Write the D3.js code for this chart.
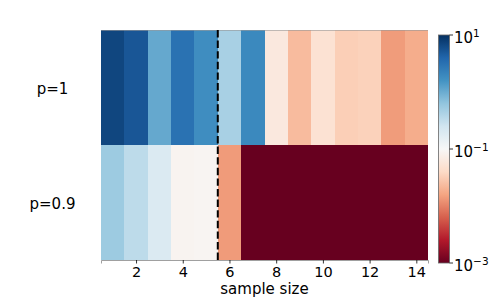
<!DOCTYPE html>
<html>
<head>
<meta charset="utf-8">
<script src="https://cdn.jsdelivr.net/npm/d3@7"></script>
<style>
  body { margin: 0; background: #fff; }
  svg { display: block; font-family: "DejaVu Sans", sans-serif; }
</style>
</head>
<body>
<svg id="chart" width="498" height="299"></svg>
<script>
// ---- data ----
const sampleSizes = [1,2,3,4,5,6,7,8,9,10,11,12,13,14];
const rowLabels = ["p=1", "p=0.9"];
const logP1  = [0.84, 0.72, 0.03, 0.49, 0.25, -0.34, 0.29, -1.21, -1.64, -1.30, -1.49, -1.47, -1.85, -1.74];
const logP09 = [-0.27, -0.47, -0.70, -1.06, -1.04, -1.86, -3, -3, -3, -3, -3, -3, -3, -3];
const valuesP1  = logP1.map(v => Math.pow(10, v));
const valuesP09 = logP09.map(v => Math.pow(10, v));
const xTicks = [2,4,6,8,10,12,14];
const cbTicks = [1, -1, -3]; // exponents
const dashedAt = 5.5;

const rdbu = ['#67001f','#b2182b','#d6604d','#f4a582','#fddbc7','#f7f7f7','#d1e5f0','#92c5de','#4393c3','#2166ac','#053061'];

// ---- layout ----
const FS = 15;
const svg = d3.select("#chart");
const L = 101, R = 428, T = 30, B = 260;
const x = d3.scaleLinear().domain([0.5, 14.5]).range([L, R]);
const y = d3.scaleBand().domain(rowLabels).range([T, B]);
const cmapT = d3.scaleLinear().domain(d3.range(11).map(i => i / 10)).range(rdbu).interpolate(d3.interpolateRgb).clamp(true);
const norm = d3.scaleLog().domain([1e-3, 10]).range([0, 1]).clamp(true);
const color = v => cmapT(norm(v));

const rows = [
  { label: rowLabels[0], values: valuesP1 },
  { label: rowLabels[1], values: valuesP09 }
];

const g = svg.append("g");
rows.forEach(r => {
  g.selectAll(null).data(r.values).enter().append("rect")
    .attr("x", (d, i) => x(sampleSizes[i] - 0.5))
    .attr("width", (d, i) => x(sampleSizes[i] + 0.5) - x(sampleSizes[i] - 0.5) + 0.3)
    .attr("y", y(r.label))
    .attr("height", y.bandwidth())
    .attr("fill", d => color(d))
    .attr("shape-rendering", "crispEdges");
});

// faint edge line at top
svg.append("line").attr("x1", L).attr("x2", R).attr("y1", T + 0.5).attr("y2", T + 0.5)
  .attr("stroke", "#999").attr("stroke-width", 1).attr("opacity", 0.6);

// dashed line
svg.append("line")
  .attr("x1", x(dashedAt)).attr("x2", x(dashedAt))
  .attr("y1", T).attr("y2", B)
  .attr("stroke", "#000").attr("stroke-width", 2)
  .attr("stroke-dasharray", "7.4,3.2");

// x axis
const xAxis = d3.axisBottom(x).tickValues(xTicks).tickSize(3.5).tickPadding(3).tickFormat(d3.format("d"));
const xg = svg.append("g").attr("transform", `translate(0,${B})`).call(xAxis);
xg.select(".domain").attr("stroke", "#888").attr("stroke-width", 0.8);
xg.selectAll(".tick line").attr("stroke", "#000").attr("stroke-width", 0.8);
xg.selectAll("text").attr("font-size", "14.5px").attr("font-family", "DejaVu Sans").attr("fill", "#000");

svg.append("text")
  .attr("x", (L + R) / 2).attr("y", 294)
  .attr("text-anchor", "middle")
  .attr("font-size", FS + "px").attr("fill", "#000")
  .text("sample size");

// row labels
rowLabels.forEach(lbl => {
  svg.append("text")
    .attr("x", 52.5).attr("y", y(lbl) + y.bandwidth() / 2 + 6)
    .attr("text-anchor", "middle")
    .attr("font-size", FS + "px").attr("fill", "#000")
    .text(lbl);
});

// colorbar
const cbL = 438.5, cbW = 11, cbT = 35, cbB = 263;
const defs = svg.append("defs");
const grad = defs.append("linearGradient").attr("id", "cbgrad")
  .attr("x1", 0).attr("x2", 0).attr("y1", 1).attr("y2", 0);
rdbu.forEach((c, i) => grad.append("stop").attr("offset", i / 10).attr("stop-color", c));
svg.append("rect").attr("x", cbL).attr("y", cbT).attr("width", cbW).attr("height", cbB - cbT)
  .attr("fill", "url(#cbgrad)").attr("stroke", "#666").attr("stroke-width", 0.8);

const cbY = d3.scaleLinear().domain([-3, 1]).range([cbB, cbT]);
const cbg = svg.append("g");
cbTicks.forEach(e => {
  const yy = cbY(e);
  cbg.append("line").attr("x1", cbL + cbW).attr("x2", cbL + cbW + 3.5)
    .attr("y1", yy).attr("y2", yy).attr("stroke", "#000").attr("stroke-width", 0.8);
  const t = cbg.append("text").attr("x", cbL + cbW + 4.5).attr("y", yy + 8)
    .attr("font-size", FS + "px").attr("fill", "#000");
  t.append("tspan").text("10");
  t.append("tspan").attr("dy", -6).attr("font-size", "10.5px").text(e < 0 ? "\u2212" + Math.abs(e) : String(e));
});
</script>
</body>
</html>
